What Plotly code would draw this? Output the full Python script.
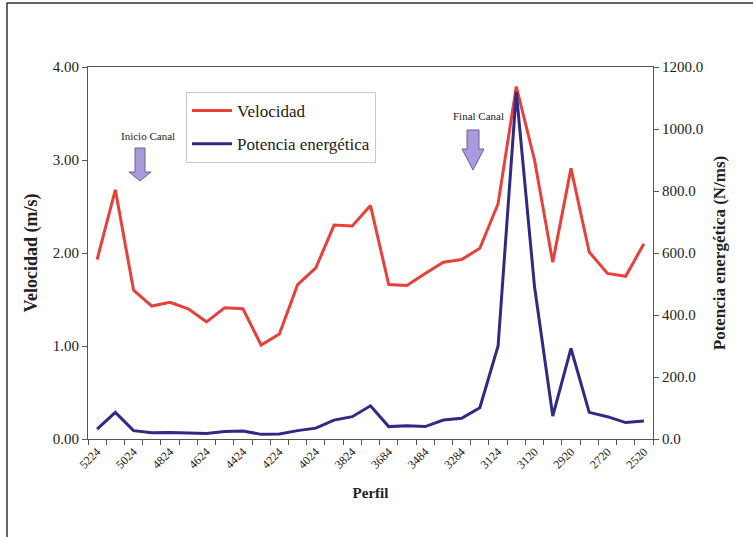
import plotly.graph_objects as go

perfiles = ["5224", "5124", "5024", "4924", "4824", "4724", "4624", "4524", "4424", "4324",
            "4224", "4124", "4024", "3924", "3824", "3744", "3684", "3584", "3484", "3384",
            "3284", "3184", "3124", "3122", "3120", "3020", "2920", "2820", "2720", "2620", "2520"]
velocidad = [1.93, 2.68, 1.60, 1.43, 1.47, 1.40, 1.26, 1.41, 1.40, 1.01,
             1.13, 1.66, 1.84, 2.30, 2.29, 2.51, 1.66, 1.65, 1.78, 1.90,
             1.93, 2.05, 2.53, 3.79, 3.00, 1.90, 2.91, 2.01, 1.78, 1.75, 2.10]
potencia = [32, 86, 27, 20, 21, 19, 18, 24, 26, 15,
            16, 27, 35, 61, 72, 107, 40, 43, 40, 61,
            67, 101, 300, 1120, 491, 74, 292, 86, 72, 53, 58]

W, H = 753, 537
L, R, T, B = 88, 653, 67, 439   # plot area in window pixels

def px(x):
    return (x - L) / (R - L)

def py(y):
    return (B - y) / (B - T)

idx = list(range(len(perfiles)))
font_serif = "Liberation Serif, Times New Roman, serif"

fig = go.Figure()
fig.add_trace(go.Scatter(x=idx, y=velocidad, name="Velocidad", mode="lines", legendgroup="v",
                         line=dict(color="#E8403A", width=3)))
fig.add_trace(go.Scatter(x=idx, y=potencia, name="Potencia energética", mode="lines", legendgroup="p",
                         line=dict(color="#2F2A85", width=3), yaxis="y2"))

def arrow(cx, top, neck, tip, sw, hw):
    p = (f"M {px(cx-sw)} {py(top)} L {px(cx+sw)} {py(top)} L {px(cx+sw)} {py(neck)} "
         f"L {px(cx+hw)} {py(neck)} L {px(cx)} {py(tip)} L {px(cx-hw)} {py(neck)} "
         f"L {px(cx-sw)} {py(neck)} Z")
    return dict(type="path", xref="paper", yref="paper", path=p,
                fillcolor="#A99BDB", line=dict(color="#6A5F9E", width=1))

shapes = [
    arrow(140, 148, 172, 181, 5, 11),
    arrow(473, 130, 149, 170, 6, 11),
    dict(type="rect", xref="paper", yref="paper", x0=px(7), x1=px(800), y0=py(3), y1=py(600),
         line=dict(color="#333333", width=1.5), fillcolor="rgba(0,0,0,0)", layer="below"),
]

annotations = [
    dict(text="Inicio Canal", x=px(148), y=py(136), xref="paper", yref="paper",
         xanchor="center", yanchor="middle",
         showarrow=False, font=dict(family=font_serif, size=11, color="#222")),
    dict(text="Final Canal", x=px(478), y=py(116), xref="paper", yref="paper",
         xanchor="center", yanchor="middle",
         showarrow=False, font=dict(family=font_serif, size=11, color="#222")),
]

fig.update_layout(
    width=W, height=H,
    margin=dict(l=L, r=W - R, t=T, b=H - B),
    paper_bgcolor="white", plot_bgcolor="white",
    font=dict(family=font_serif, size=15, color="#222"),
    showlegend=True,
    legend=dict(x=px(186), y=py(92), xanchor="left", yanchor="top",
                bgcolor="white", bordercolor="#C8C8C8", borderwidth=1,
                font=dict(family=font_serif, size=17, color="#222"),
                tracegroupgap=8, itemwidth=40),
    xaxis=dict(
        range=[-0.5, len(perfiles) - 0.5], automargin=False,
        tickmode="array", tickvals=idx[::2], ticktext=perfiles[::2],
        tickangle=-45, ticks="", tickfont=dict(size=12),
        minor=dict(ticks="outside", tickmode="linear", tick0=-0.5, dtick=1,
                   ticklen=5, tickcolor="#555", showgrid=False),
        showline=True, linecolor="#555", linewidth=1, mirror=True,
        showgrid=False, zeroline=False,
        title=dict(text="<b>Perfil</b>", font=dict(size=15), standoff=16),
    ),
    yaxis=dict(
        range=[0, 4], tickmode="linear", tick0=0, dtick=1, tickformat=".2f", automargin=False,
        ticks="outside", ticklen=5, tickcolor="#555",
        showline=True, linecolor="#555", linewidth=1,
        showgrid=False, zeroline=False,
        title=dict(text="<b>Velocidad (m/s)</b>", font=dict(size=18), standoff=10),
    ),
    yaxis2=dict(
        range=[0, 1200], tickmode="linear", tick0=0, dtick=200, tickformat=".1f", automargin=False,
        overlaying="y", side="right",
        ticks="outside", ticklen=5, tickcolor="#555",
        showline=True, linecolor="#555", linewidth=1,
        showgrid=False, zeroline=False,
        title=dict(text="<b>Potencia energética (N/ms)</b>", font=dict(size=17), standoff=10),
    ),
    shapes=shapes,
    annotations=annotations,
)

fig.write_html("out.html", config={"displayModeBar": False},
               post_script="document.body.style.margin='0px';")
